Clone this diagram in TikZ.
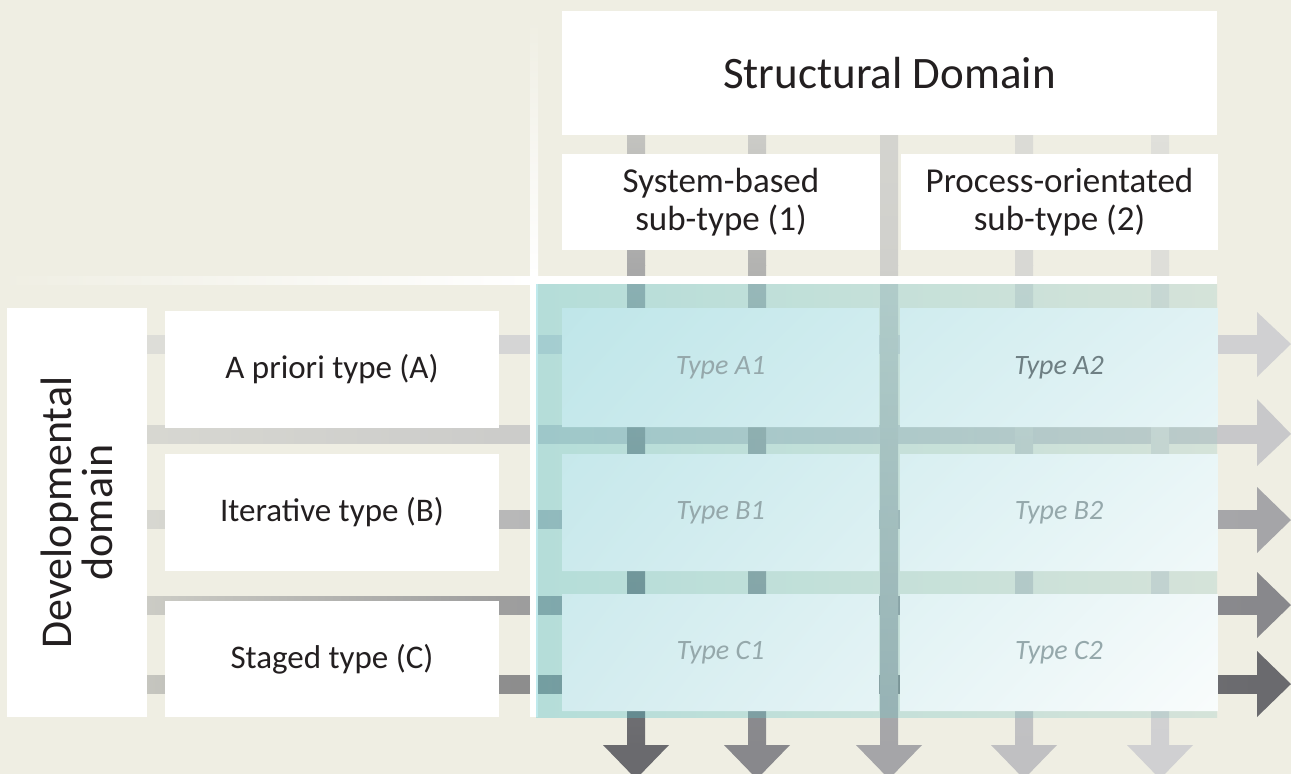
\documentclass[tikz,border=0pt]{standalone}
\usepackage{fontspec}
\setmainfont{Carlito}
\usetikzlibrary{positioning,shadings}
\definecolor{bgbeige}{RGB}{239,238,227}
\definecolor{labeltext}{RGB}{35,31,32}
\definecolor{celltext}{RGB}{149,168,171}
\definecolor{celltextdark}{RGB}{110,127,131}
\definecolor{tealleft}{RGB}{73,192,201}
\definecolor{tealright}{RGB}{165,207,201}
\definecolor{cellul}{RGB}{191,230,233}
\definecolor{cellur}{RGB}{224,242,244}
\definecolor{cellll}{RGB}{211,236,239}
\definecolor{celllr}{RGB}{249,252,252}
% horizontal bars: left, middle, end
\definecolor{hAa}{RGB}{222,222,216}\definecolor{hAb}{RGB}{213,213,213}\definecolor{hAc}{RGB}{208,208,210}
\definecolor{hBa}{RGB}{216,216,210}\definecolor{hBb}{RGB}{204,204,202}\definecolor{hBc}{RGB}{200,200,202}
\definecolor{hCa}{RGB}{218,218,211}\definecolor{hCb}{RGB}{184,184,184}\definecolor{hCc}{RGB}{165,165,168}
\definecolor{hDa}{RGB}{207,207,200}\definecolor{hDb}{RGB}{158,158,158}\definecolor{hDc}{RGB}{136,136,140}
\definecolor{hEa}{RGB}{202,202,195}\definecolor{hEb}{RGB}{142,142,142}\definecolor{hEc}{RGB}{106,106,110}
% vertical bars: top, middle, end
\definecolor{vAa}{RGB}{202,202,197}\definecolor{vAb}{RGB}{169,169,169}\definecolor{vAc}{RGB}{106,106,110}
\definecolor{vBa}{RGB}{211,211,206}\definecolor{vBb}{RGB}{179,179,177}\definecolor{vBc}{RGB}{136,136,140}
\definecolor{vCa}{RGB}{213,213,208}\definecolor{vCb}{RGB}{208,208,204}\definecolor{vCc}{RGB}{165,165,168}
\definecolor{vDa}{RGB}{220,220,215}\definecolor{vDb}{RGB}{216,216,212}\definecolor{vDc}{RGB}{192,192,194}
\definecolor{vEa}{RGB}{224,224,219}\definecolor{vEb}{RGB}{222,222,217}\definecolor{vEc}{RGB}{208,208,210}
\tikzset{whitebox/.style={fill=white, inner sep=0pt, align=center, text=labeltext}}
\tikzset{celllabel/.style={inner sep=0pt, text=celltext, font=\fontsize{28}{32}\selectfont\itshape}}

\begin{document}
\begin{tikzpicture}[x=1pt,y=-1pt]
  \fill[bgbeige] (0,0) rectangle (1291,774);
  \useasboundingbox (0,0) rectangle (1291,774);

  % horizontal bars
  \shade[left color=hAa, right color=hAb] (120,335) rectangle (499,353);
  \shade[left color=hAb, right color=hAc] (499,335) rectangle (1258,353);
  \fill[hAc] (1257,312) -- (1291,344) -- (1257,377) -- cycle;
  \shade[left color=hBa, right color=hBb] (120,425) rectangle (499,443);
  \shade[left color=hBb, right color=hBc] (499,425) rectangle (1258,443);
  \fill[hBc] (1257,399) -- (1291,434) -- (1257,466) -- cycle;
  \shade[left color=hCa, right color=hCb] (120,510) rectangle (499,528);
  \shade[left color=hCb, right color=hCc] (499,510) rectangle (1258,528);
  \fill[hCc] (1257,487) -- (1291,520) -- (1257,553) -- cycle;
  \shade[left color=hDa, right color=hDb] (120,596) rectangle (499,614);
  \shade[left color=hDb, right color=hDc] (499,596) rectangle (1258,614);
  \fill[hDc] (1257,572) -- (1291,605) -- (1257,638) -- cycle;
  \shade[left color=hEa, right color=hEb] (120,675) rectangle (499,693);
  \shade[left color=hEb, right color=hEc] (499,675) rectangle (1258,693);
  \fill[hEc] (1257,651) -- (1291,684) -- (1257,717) -- cycle;

  % vertical bars
  \shade[top color=vAa, bottom color=vAb] (627,100) rectangle (645,265);
  \shade[top color=vAb, bottom color=vAc] (627,265) rectangle (645,746);
  \fill[vAc] (603,745) -- (636,779) -- (669,745) -- cycle;
  \shade[top color=vBa, bottom color=vBb] (748,100) rectangle (766,265);
  \shade[top color=vBb, bottom color=vBc] (748,265) rectangle (766,746);
  \fill[vBc] (724,745) -- (757,779) -- (790,745) -- cycle;
  \shade[top color=vCa, bottom color=vCb] (880,100) rectangle (898,265);
  \shade[top color=vCb, bottom color=vCc] (880,265) rectangle (898,746);
  \fill[vCc] (856,745) -- (889,779) -- (922,745) -- cycle;
  \shade[top color=vDa, bottom color=vDb] (1015,100) rectangle (1033,265);
  \shade[top color=vDb, bottom color=vDc] (1015,265) rectangle (1033,746);
  \fill[vDc] (991,745) -- (1024,779) -- (1057,745) -- cycle;
  \shade[top color=vEa, bottom color=vEb] (1151,100) rectangle (1169,265);
  \shade[top color=vEb, bottom color=vEc] (1151,265) rectangle (1169,746);
  \fill[vEc] (1127,745) -- (1160,779) -- (1193,745) -- cycle;

  % white cross
  \shade[left color=bgbeige, right color=white] (0,276) rectangle (530,284);
  \fill[white] (530,276) rectangle (1217,284);
  \shade[top color=bgbeige, bottom color=white] (530,20) rectangle (538,276);
  \fill[white] (530,276) rectangle (538,717);

  % teal field
  \shade[left color=tealleft, right color=tealright, opacity=0.35] (536,284) rectangle (1217,717);

  % headings
  \node[whitebox, minimum width=655pt, minimum height=124pt, font=\fontsize{45}{50}\selectfont] (struct) at (889.5,73) {Structural Domain};
  \node[whitebox, minimum width=318pt, minimum height=96pt, font=\fontsize{35}{38}\selectfont] (sysbased) at (721,202) {System-based\\sub-type (1)};
  \node[whitebox, minimum width=317pt, minimum height=96pt, font=\fontsize{35}{38}\selectfont] (procor) at (1059.5,202) {Process-orientated\\sub-type (2)};
  \node[whitebox, rotate=90, minimum width=409pt, minimum height=140pt, font=\fontsize{44}{41}\selectfont] (devdom) at (77,512.5) {Developmental\\domain};
  \node[whitebox, minimum width=334pt, minimum height=117pt, font=\fontsize{33}{38}\selectfont] (apriori) at (332,369.5) {A priori type (A)};
  \node[whitebox, minimum width=334pt, minimum height=117pt, font=\fontsize{33}{38}\selectfont] (iterative) at (332,512.5) {Iterative type (B)};
  \node[whitebox, minimum width=334pt, minimum height=116pt, font=\fontsize{33}{38}\selectfont] (staged) at (332,659) {Staged type (C)};

  % cells
  \begin{scope}
    \clip (562,308) rectangle (879,427) (900,308) rectangle (1218,427)
          (562,454) rectangle (879,571) (900,454) rectangle (1218,571)
          (562,594) rectangle (879,711) (900,594) rectangle (1218,711);
    \shade[upper left=cellul, upper right=cellur, lower left=cellll, lower right=celllr] (562,308) rectangle (1218,711);
  \end{scope}
  \node[celllabel, minimum width=317pt, minimum height=119pt] (typeA1) at (720.5,367.5) {Type A1};
  \node[celllabel, minimum width=318pt, minimum height=119pt, text=celltextdark] (typeA2) at (1059,367.5) {Type A2};
  \node[celllabel, minimum width=317pt, minimum height=117pt] (typeB1) at (720.5,512.5) {Type B1};
  \node[celllabel, minimum width=318pt, minimum height=117pt] (typeB2) at (1059,512.5) {Type B2};
  \node[celllabel, minimum width=317pt, minimum height=117pt] (typeC1) at (720.5,652.5) {Type C1};
  \node[celllabel, minimum width=318pt, minimum height=117pt] (typeC2) at (1059,652.5) {Type C2};
\end{tikzpicture}
\end{document}
